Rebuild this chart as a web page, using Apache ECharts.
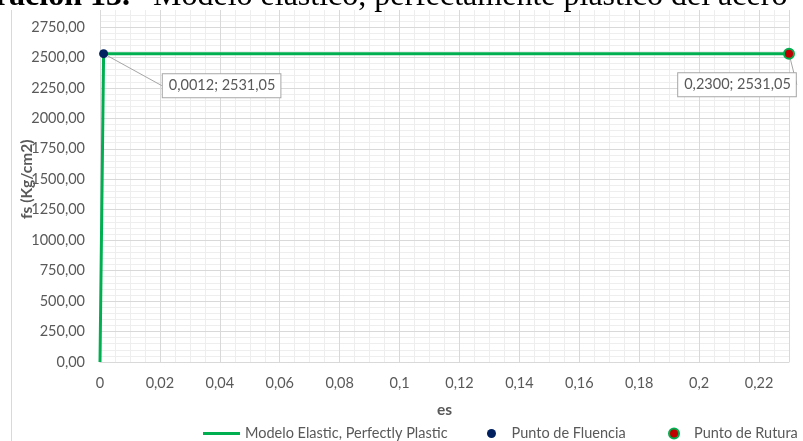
<!DOCTYPE html>
<html>
<head>
<meta charset="utf-8">
<script src="https://cdn.jsdelivr.net/npm/echarts@6/dist/echarts.min.js"></script>
<style>
  html, body { margin: 0; padding: 0; background: #ffffff; }
  #chart { width: 803px; height: 441px; }
</style>
</head>
<body>
<div id="chart"></div>
<script>
// Elastic, perfectly plastic steel model: strain (es) vs stress (fs)
const seriesNames = ['Modelo Elastic, Perfectly Plastic', 'Punto de Fluencia', 'Punto de Rutura'];
const strainValues = [0, 0.0012, 0.23];
const stressValues = [0, 2531.05, 2531.05];
const yieldPoint = [0.0012, 2531.05];
const rupturePoint = [0.23, 2531.05];
const xTickStep = 0.02;
const yTickStep = 250;
const titleBold = 'Ilustración 13.';
const titleText = 'Modelo elástico, perfectamente plástico del acero';

const FONT = 'Lato';
const GREY_TEXT = '#595959';
const MAJOR_GRID = '#d9d9d9';
const MINOR_GRID = '#eeeeee';

const comma = s => s.replace('.', ',');
const fmtX = v => comma(String(parseFloat(v.toFixed(4))));
const fmtY = v => comma(v.toFixed(2));
const fmtPoint = p => comma(p.value[0].toFixed(4)) + '; ' + comma(p.value[1].toFixed(2));

const modelLine = strainValues.map((x, i) => [x, stressValues[i]]);

const grid = { left: 100, right: 14, top: -3.5, bottom: 79, containLabel: false, outerBoundsMode: 'none' };

const pointLabel = {
  show: true,
  position: 'inside',
  formatter: fmtPoint,
  color: GREY_TEXT,
  fontFamily: FONT,
  fontSize: 14.5,
  backgroundColor: '#ffffff',
  borderColor: '#a6a6a6',
  borderWidth: 1,
  padding: [4, 5, 4, 6]
};

const legendText = { color: GREY_TEXT, fontFamily: FONT, fontSize: 14.5 };

const chart = echarts.init(document.getElementById('chart'), null, { renderer: 'canvas' });

chart.setOption({
  animation: false,
  backgroundColor: '#ffffff',
  grid: grid,
  xAxis: [
    {
      type: 'value', min: 0, max: 0.23, interval: xTickStep, z: 1,
      name: 'es', nameLocation: 'middle', nameGap: 40, nameMoveOverlap: false,
      nameTextStyle: { color: GREY_TEXT, fontFamily: FONT, fontSize: 15.5, fontWeight: 'bold' },
      axisLine: { show: true, onZero: false, lineStyle: { color: MAJOR_GRID, width: 1 } },
      axisTick: { show: false },
      axisLabel: { color: GREY_TEXT, fontFamily: FONT, fontSize: 14.5, margin: 14,
                   showMaxLabel: false, formatter: fmtX },
      splitLine: { show: true, lineStyle: { color: MAJOR_GRID, width: 1 } }
    },
    {
      // minor vertical grid
      type: 'value', min: 0, max: 0.23, interval: xTickStep / 4, z: 0,
      axisLine: { show: false }, axisTick: { show: false }, axisLabel: { show: false },
      splitLine: { show: true, lineStyle: { color: MINOR_GRID, width: 1 } }
    }
  ],
  yAxis: [
    {
      type: 'value', min: 0, max: 3000, interval: yTickStep, z: 1,
      name: 'fs (Kg/cm2)', nameLocation: 'middle', nameGap: 65, nameRotate: 90, nameMoveOverlap: false,
      nameTextStyle: { color: GREY_TEXT, fontFamily: FONT, fontSize: 15.5, fontWeight: 'bold' },
      axisLine: { show: true, lineStyle: { color: MAJOR_GRID, width: 1 } },
      axisTick: { show: false },
      axisLabel: { color: GREY_TEXT, fontFamily: FONT, fontSize: 14.5, margin: 15,
                   showMaxLabel: false, formatter: fmtY },
      splitLine: { show: true, lineStyle: { color: MAJOR_GRID, width: 1 } }
    },
    {
      // minor horizontal grid
      type: 'value', min: 0, max: 3000, interval: yTickStep / 5, z: 0,
      axisLine: { show: false }, axisTick: { show: false }, axisLabel: { show: false },
      splitLine: { show: true, lineStyle: { color: MINOR_GRID, width: 1 } }
    }
  ],
  legend: [
    {
      data: [{ name: seriesNames[0], icon: 'rect' }], left: 198, top: 421, itemWidth: 37, itemHeight: 3,
      textStyle: legendText, selectedMode: false
    },
    {
      data: [{ name: seriesNames[1], icon: 'circle' }], left: 482, top: 421, itemWidth: 30, itemHeight: 9,
      textStyle: legendText, selectedMode: false
    },
    {
      data: [{ name: seriesNames[2], icon: 'circle' }], left: 663, top: 421, itemWidth: 30, itemHeight: 10,
      textStyle: legendText, selectedMode: false
    }
  ],
  series: [
    {
      name: seriesNames[0],
      type: 'line',
      data: modelLine,
      symbol: 'none',
      lineStyle: { color: '#00b050', width: 3 },
      itemStyle: { color: '#00b050' },
      z: 2
    },
    {
      name: seriesNames[1],
      type: 'scatter',
      data: [yieldPoint],
      symbolSize: 9,
      itemStyle: { color: '#002060', opacity: 1 },
      label: pointLabel,
      labelLayout: { dx: 118, dy: 32 },
      labelLine: { show: true, lineStyle: { color: '#a6a6a6', width: 1 } },
      z: 3
    },
    {
      name: seriesNames[2],
      type: 'scatter',
      data: [rupturePoint],
      symbolSize: 10,
      itemStyle: { color: '#c00000', borderColor: '#00b050', borderWidth: 2, opacity: 1 },
      label: pointLabel,
      labelLayout: { dx: -52, dy: 31 },
      labelLine: { show: true, lineStyle: { color: '#a6a6a6', width: 1 } },
      z: 3
    }
  ],
  graphic: [
    {
      type: 'rect', left: 0, top: 0, z: 50, silent: true,
      shape: { width: 803, height: 10 },
      style: { fill: '#ffffff' }
    },
    {
      type: 'line', z: 50, silent: true,
      shape: { x1: 11.5, y1: 10, x2: 11.5, y2: 441 },
      style: { stroke: MAJOR_GRID, lineWidth: 1 }
    },
    {
      type: 'text', z: 51, silent: true,
      style: { x: 130, y: -3, text: titleBold, align: 'right', verticalAlign: 'middle',
               fill: '#000000', font: 'bold 32px "Liberation Serif"' }
    },
    {
      type: 'text', z: 51, silent: true,
      style: { x: 153, y: -3, text: titleText, align: 'left', verticalAlign: 'middle',
               fill: '#000000', font: '32px "Liberation Serif"' }
    }
  ]
});
</script>
</body>
</html>
